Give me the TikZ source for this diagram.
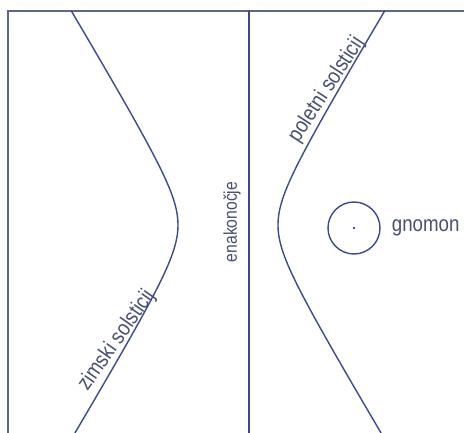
\documentclass[tikz,border=0pt]{standalone}
\usepackage{fontspec}
\usepackage{tikz}
\usetikzlibrary{positioning}
\newfontfamily\condsans[FakeStretch=0.85]{Liberation Sans}
\definecolor{ink}{HTML}{3B4A8C}
\definecolor{frame}{HTML}{5C6888}
\definecolor{label}{HTML}{465070}

\begin{document}
\begin{tikzpicture}[x=1pt,y=-1pt,
  curve/.style={line width=1.4pt,color=ink,line cap=round},
  lbl/.style={text=label,inner sep=0pt,font=\condsans\fontsize{#1}{#1}\selectfont},
  lbl/.default=22]
  \useasboundingbox (0,0) rectangle (464,433);
  % frame and equinox line
  \draw[line width=1.2pt,color=frame] (464,11) -- (8,11) -- (8,433);
  \draw[curve] (249,11) -- (249,433);
  % solstice hyperbolas
  \draw[curve] plot[domain=-214:208,samples=90,smooth] ({178-24*(sqrt(1+(\x/40)^2)-1)},{225+\x});
  \draw[curve] plot[domain=-214:208,samples=90,smooth] ({278+24*(sqrt(1+(\x/40)^2)-1)},{225+\x});
  \node[lbl,anchor=base,rotate=55,yshift=2pt] (zimski) at (123,345) {zimski solsticij};
  \node[lbl,anchor=base,rotate=57,yshift=2pt] (poletni) at (333,94) {poletni solsticij};
  \node[lbl=18.5,rotate=90] (enak) at (232,222) {enakonočje};
  % gnomon
  \node[circle,draw=ink,line width=1.4pt,minimum size=52pt,inner sep=0pt] (gnom) at (354,228) {};
  \fill[ink] (gnom.center) circle (1.3pt);
  \node[lbl,right=11pt of gnom] (gtext) {gnomon};
\end{tikzpicture}
\end{document}
